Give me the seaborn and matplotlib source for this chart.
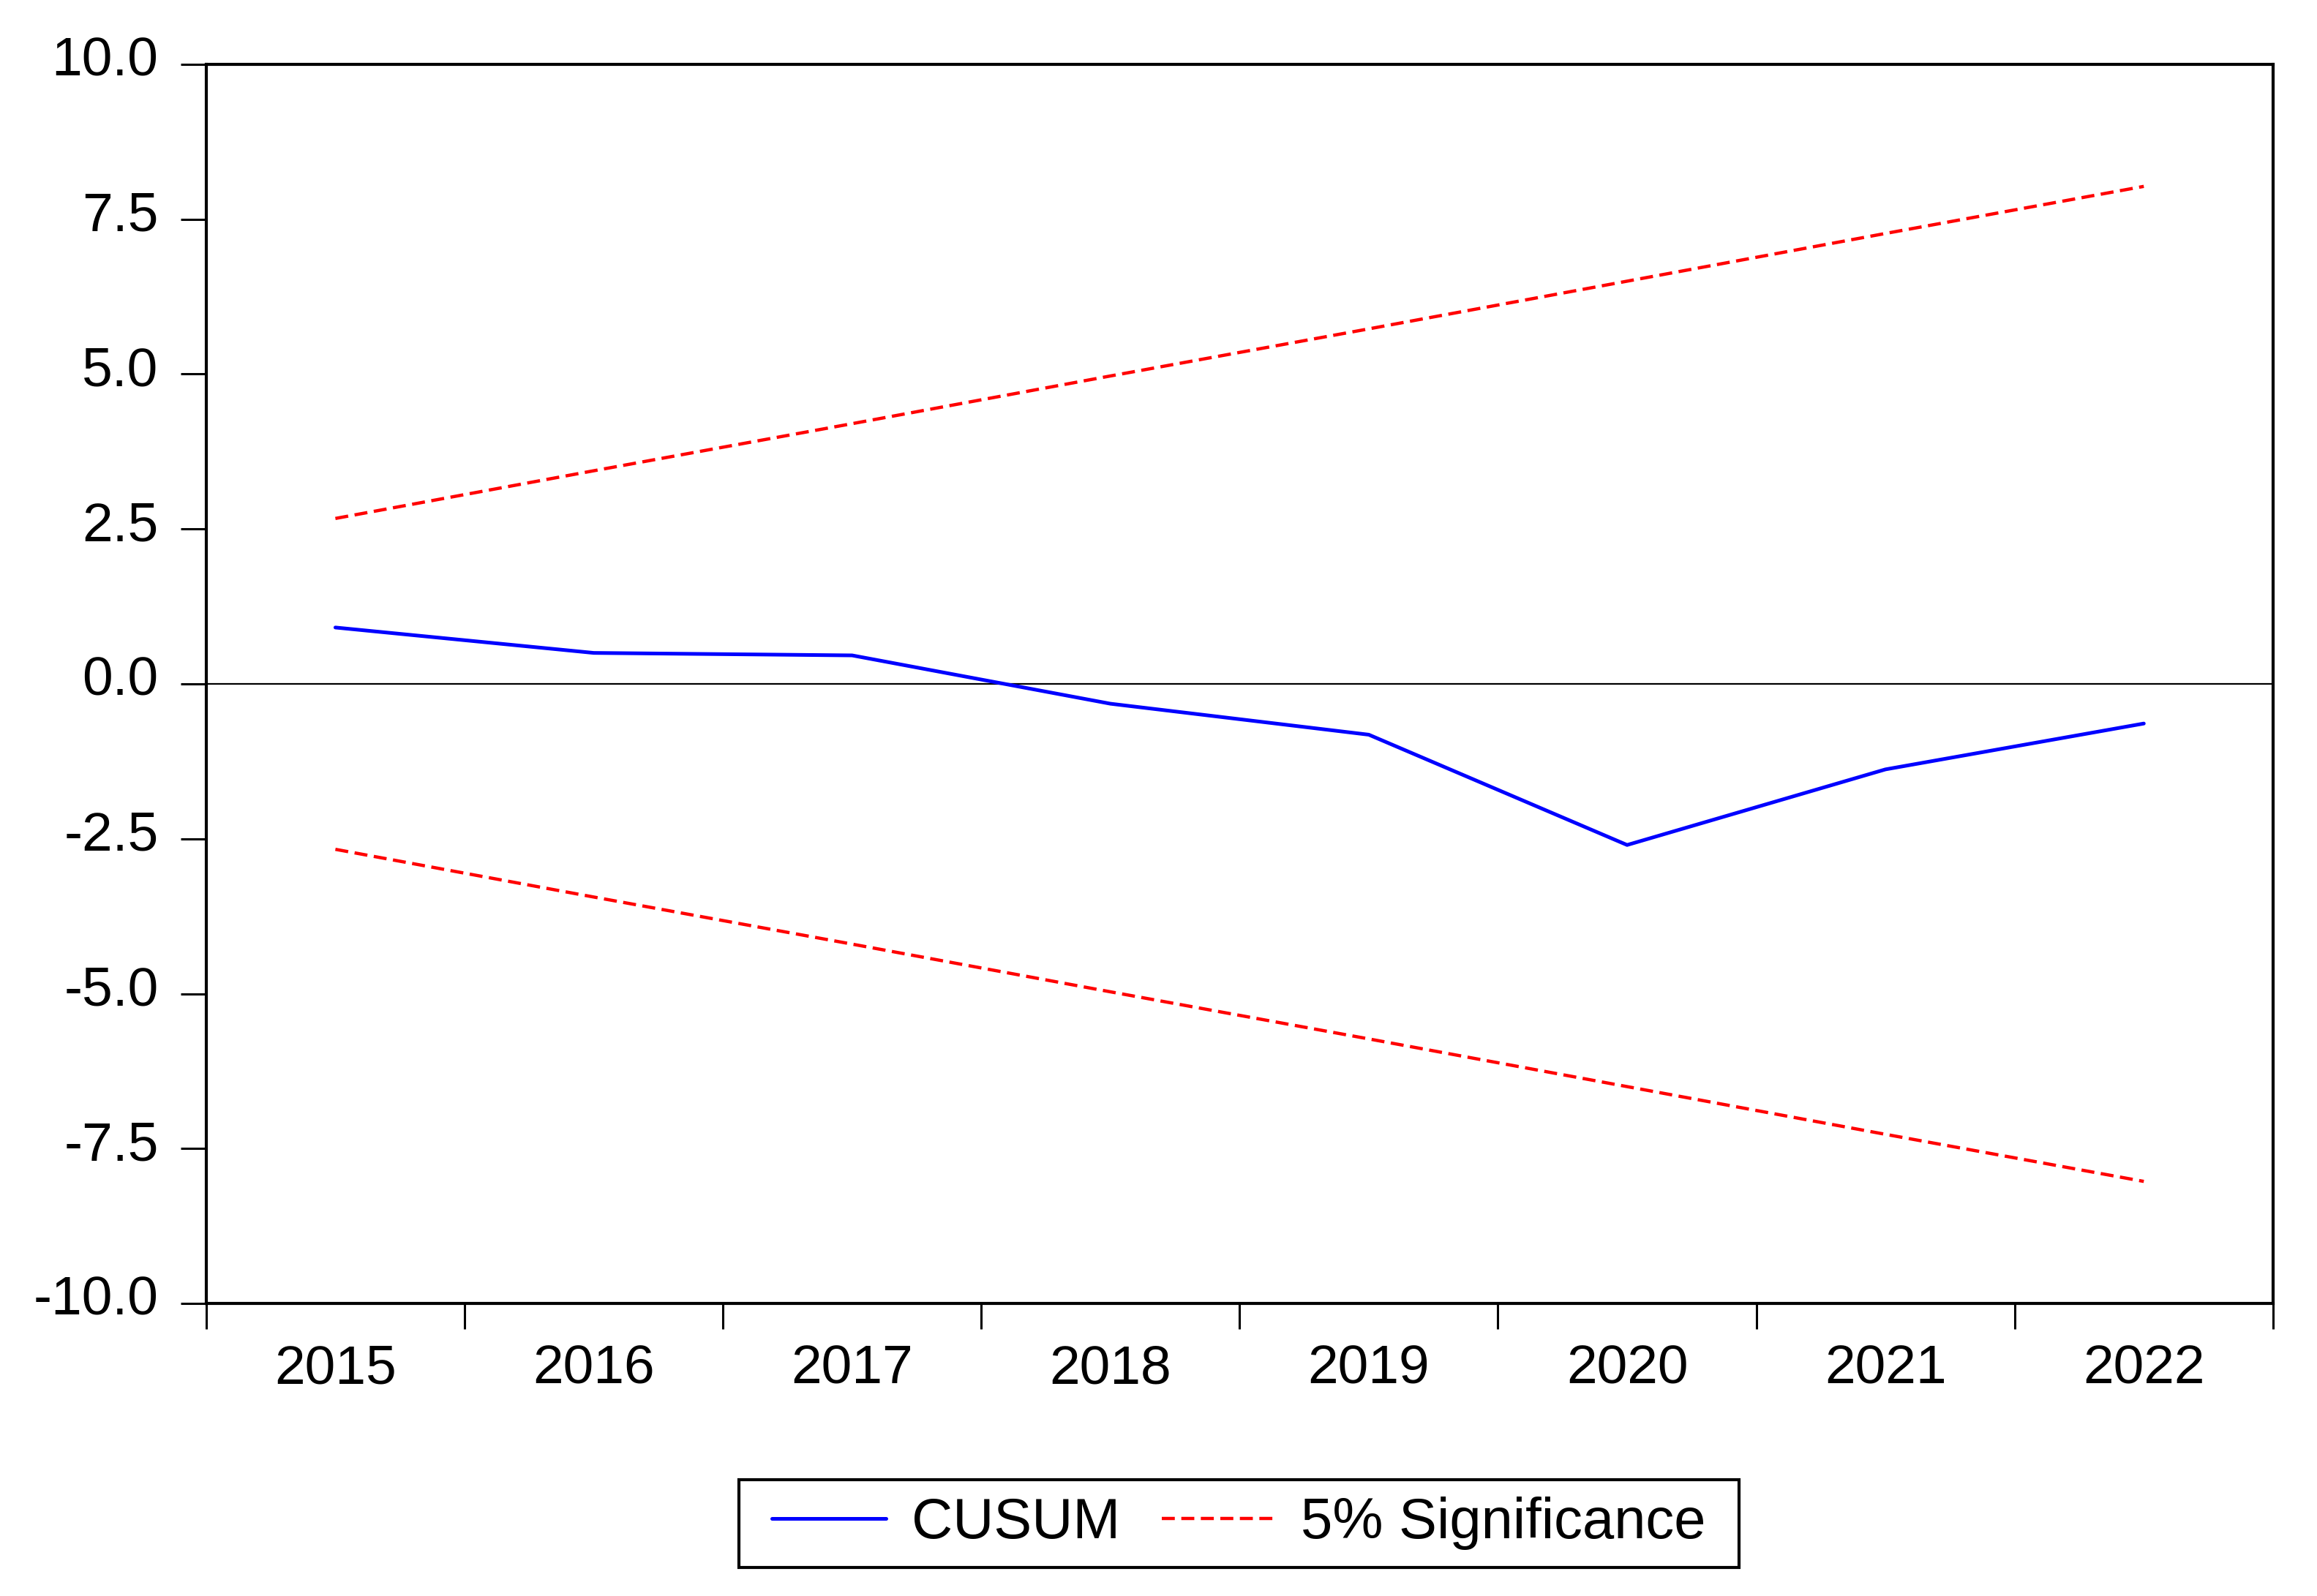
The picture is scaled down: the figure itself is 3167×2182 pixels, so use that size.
import matplotlib
matplotlib.use('Agg')
import matplotlib.pyplot as plt
import matplotlib.transforms as mtransforms
from matplotlib.patches import Rectangle
import seaborn as sns
import numpy as np

years = [2015, 2016, 2017, 2018, 2019, 2020, 2021, 2022]
cusum = [0.91, 0.50, 0.46, -0.32, -0.82, -2.60, -1.38, -0.64]
upper = [2.67, 3.44, 4.20, 4.97, 5.73, 6.50, 7.27, 8.03]
lower = [-2.67, -3.44, -4.20, -4.97, -5.73, -6.50, -7.27, -8.03]
yticks = [-10.0, -7.5, -5.0, -2.5, 0.0, 2.5, 5.0, 7.5, 10.0]

sns.set_style('ticks')
plt.rcParams['font.family'] = ['Liberation Sans', 'DejaVu Sans']
plt.rcParams.update({'text.color': 'black', 'xtick.color': 'black',
                     'ytick.color': 'black', 'axes.labelcolor': 'black'})

fig = plt.figure(figsize=(15.835, 10.91), dpi=200)
ax = fig.add_axes([0.0890, 0.1833, 0.8920, 0.7764])

ax.axhline(0, color='black', lw=0.8, zorder=1)
sns.lineplot(x=years, y=cusum, color='#0000ff', lw=1.8, ax=ax, label='CUSUM')
sns.lineplot(x=years, y=upper, color='#ff0000', lw=1.6, linestyle=(0, (4, 2)), ax=ax,
             label='5% Significance')
sns.lineplot(x=years, y=lower, color='#ff0000', lw=1.6, linestyle=(0, (4, 2)), ax=ax)

ax.set_ylim(-10, 10)
ax.set_xlim(years[0] - 0.5, years[-1] + 0.5)
ax.set_yticks(yticks)
ax.set_yticklabels([f'{v:.1f}' for v in yticks])
ax.set_xticks(np.arange(years[0] - 0.5, years[-1] + 1, 1.0))
ax.set_xticklabels([])
ax.set_xticks(years, minor=True)
ax.set_xticklabels([str(y) for y in years], minor=True)
ax.tick_params(axis='y', which='major', labelsize=27, length=12.5, width=1.1, pad=11, direction='out')
ax.tick_params(axis='x', which='major', length=12.5, width=1.1, direction='out')
ax.tick_params(axis='x', which='minor', labelsize=27, length=0, pad=20)
for s in ax.spines.values():
    s.set_linewidth(1.5)
    s.set_color('black')

# y labels sit a little above their ticks
off = mtransforms.ScaledTranslation(0, 4 / 72, fig.dpi_scale_trans)
for t in ax.get_yticklabels():
    t.set_transform(t.get_transform() + off)

ax.get_legend().remove()
h, l = ax.get_legend_handles_labels()
leg = fig.legend(h, l, loc='center', bbox_to_anchor=(0.5347, 0.0454), ncol=2, fontsize=28,
                 frameon=False, handlelength=2.0, handletextpad=0.45,
                 columnspacing=0.73, borderpad=0.3)

# box drawn by hand: wider side padding than top/bottom
fig.canvas.draw()
bb = leg.get_window_extent()
W, H = fig.bbox.width, fig.bbox.height
padx = 22
fig.patches.append(Rectangle(((bb.x0 - padx) / W, bb.y0 / H), (bb.width + 2 * padx) / W,
                             bb.height / H, transform=fig.transFigure, fill=False,
                             edgecolor='black', lw=1.5))

fig.savefig('out.png', dpi=200, facecolor='white')
